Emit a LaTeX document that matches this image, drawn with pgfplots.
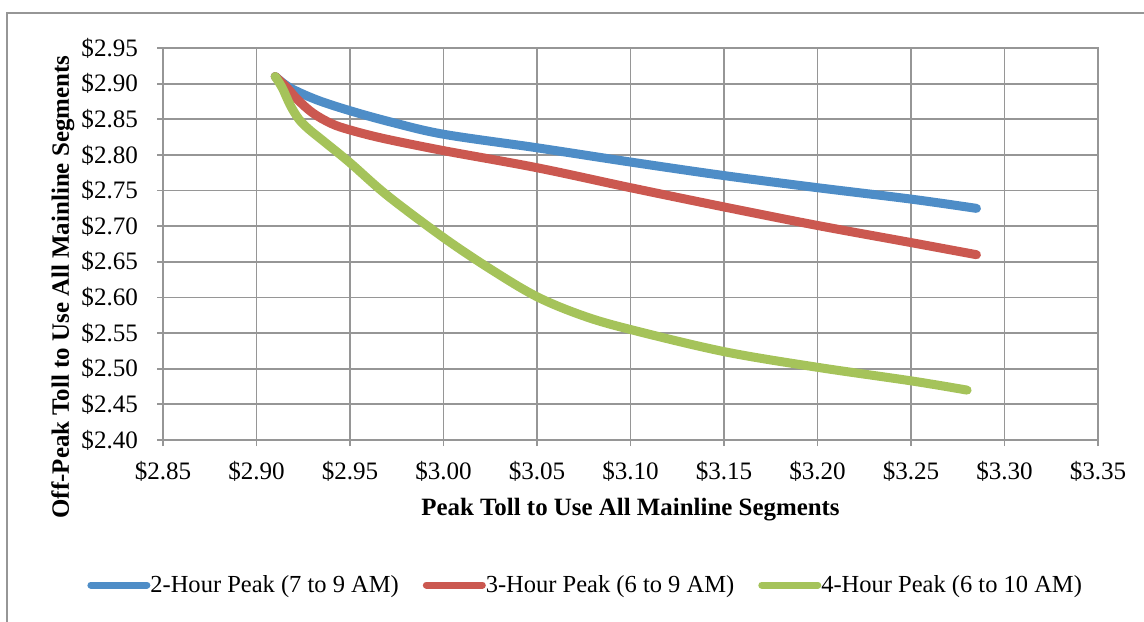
\documentclass[border=0pt]{standalone}
\usepackage{pgfplots}
\pgfplotsset{compat=1.18}
\usepackage{fontspec}
\setmainfont{Liberation Serif}
\definecolor{cblue}{RGB}{78,141,199}
\definecolor{cred}{RGB}{203,88,80}
\definecolor{cgreen}{RGB}{165,195,90}
\definecolor{cgrid}{RGB}{150,150,150}
\begin{document}
\begin{tikzpicture}
\useasboundingbox (0,0) rectangle (572bp,311bp);
\draw[cgrid, line width=0.8bp] (3.5bp,-20bp) -- (3.5bp,304.5bp) -- (600bp,304.5bp);
\begin{axis}[
  at={(81.5bp,91bp)}, anchor=south west,
  scale only axis, width=467.5bp, height=196bp,
  xmin=2.85, xmax=3.35, ymin=2.40, ymax=2.95,
  xtick={2.85,2.90,...,3.36}, ytick={2.40,2.45,...,2.96},
  grid=major,
  major grid style={cgrid, line width=0.9bp},
  axis line style={cgrid, line width=0.9bp},
  tick style={cgrid, line width=0.9bp},
  tick align=outside, major tick length=3bp,
  xtick pos=bottom, ytick pos=left,
  /pgf/number format/assume math mode=true,
  xticklabel={\$\pgfmathprintnumber[fixed,fixed zerofill,precision=2]{\tick}},
  yticklabel={\$\pgfmathprintnumber[fixed,fixed zerofill,precision=2]{\tick}},
  ticklabel style={font=\fontsize{12.6}{14}\selectfont},
  xticklabel style={yshift=-4bp},
  yticklabel style={xshift=-6bp},
  xlabel={Peak Toll to Use All Mainline Segments},
  ylabel={Off-Peak Toll to Use All Mainline Segments},
  xlabel style={font=\fontsize{12.5}{14}\bfseries\selectfont, at={(axis description cs:0.5,-0.1786)}, anchor=center},
  ylabel style={font=\fontsize{12.5}{14}\bfseries\selectfont, at={(axis description cs:-0.107,0.390)}, anchor=center},
  legend columns=3,
  legend style={at={(axis description cs:0.451,-0.37)}, anchor=center, draw=none, fill=none,
    font=\fontsize{12.3}{14}\selectfont, nodes={inner sep=0pt},
    /tikz/every even column/.append style={column sep=12bp}},
  legend cell align=left,
  legend image code/.code={\draw[#1, line width=3.5bp, line cap=round] (0bp,0bp) -- (28bp,0bp);},
  every axis plot/.append style={line width=4.5bp, line cap=round, line join=round, smooth, tension=0.55},
]
\addplot[cblue] coordinates {
(2.910,2.910) (2.918,2.894) (2.9325,2.877) (2.950,2.862) (2.972,2.846) (3.000,2.829)
(3.050,2.810) (3.100,2.790) (3.150,2.771) (3.200,2.754) (3.250,2.738) (3.285,2.725)};
\addlegendentry{2-Hour Peak (7 to 9 AM)}
\addplot[cred] coordinates {
(2.910,2.910) (2.9164,2.894) (2.9218,2.878) (2.930,2.859) (2.940,2.844) (2.950,2.835)
(2.968,2.823) (3.000,2.806) (3.050,2.782) (3.100,2.754) (3.150,2.727) (3.200,2.701)
(3.250,2.677) (3.285,2.660)};
\addlegendentry{3-Hour Peak (6 to 9 AM)}
\addplot[cgreen] coordinates {
(2.910,2.910) (2.9138,2.894) (2.918,2.870) (2.9227,2.850) (2.928,2.836) (2.936,2.819)
(2.950,2.789) (2.970,2.743) (3.000,2.684) (3.025,2.640) (3.050,2.601) (3.075,2.574)
(3.100,2.555) (3.150,2.524) (3.200,2.502) (3.250,2.483) (3.280,2.470)};
\addlegendentry{4-Hour Peak (6 to 10 AM)}
\end{axis}
\end{tikzpicture}
\end{document}
